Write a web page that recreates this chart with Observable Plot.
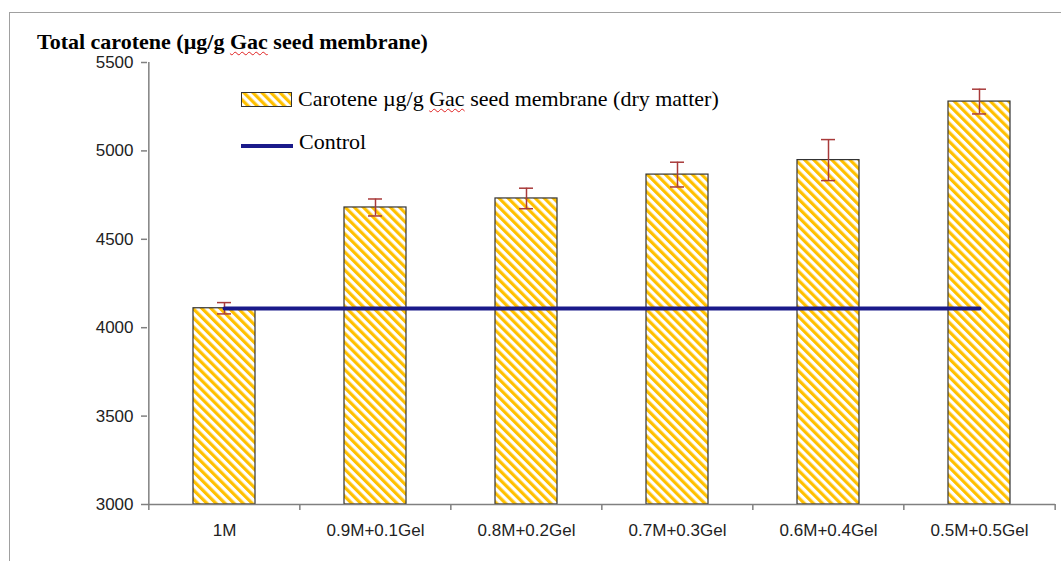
<!DOCTYPE html>
<html>
<head>
<meta charset="utf-8">
<script src="https://cdn.jsdelivr.net/npm/d3@7"></script>
<script src="https://cdn.jsdelivr.net/npm/@observablehq/plot@0.6"></script>
<style>
  html, body { margin: 0; padding: 0; background: #fff; }
  #wrap { position: relative; width: 1061px; height: 561px; overflow: hidden; }
  #frame { position: absolute; left: 9px; top: 12px; right: -5px; bottom: -5px; border-top: 1.5px solid #a0a0a0; border-left: 1.5px solid #a0a0a0; }
  #title { position: absolute; left: 37px; top: 30px; font: bold 22px "Liberation Serif", "Times New Roman", serif; line-height: 24px; color: #000; white-space: nowrap; }
  .squiggle { text-decoration: underline wavy #e02020; text-decoration-thickness: 1px; text-underline-offset: 2px; }
  .leg { position: absolute; height: 24px; font: 22px "Liberation Serif", "Times New Roman", serif; line-height: 24px; color: #000; white-space: nowrap; display: flex; align-items: center; }
  .leg svg { margin-right: 6px; }
  #chart { position: absolute; left: 0; top: 0; }
</style>
</head>
<body>
<div id="wrap">
  <div id="chart"></div>
  <div id="frame"></div>
  <div id="title">Total carotene (µg/g <span class="squiggle">Gac</span> seed membrane)</div>
  <div class="leg" id="leg1" style="left:241px; top:87px;">
    <svg width="51" height="15">
      <defs>
        <pattern id="hatchLeg" patternUnits="userSpaceOnUse" width="6.4" height="6.4" patternTransform="rotate(-45)">
          <rect width="6.4" height="6.4" fill="#fff"></rect>
          <rect width="3.2" height="6.4" fill="#ffc000"></rect>
        </pattern>
      </defs>
      <rect x="0.5" y="0.5" width="50" height="14" fill="url(#hatchLeg)" stroke="#333" stroke-width="1"></rect>
    </svg>
    <span>Carotene µg/g <span class="squiggle">Gac</span> seed membrane (dry matter)</span>
  </div>
  <div class="leg" id="leg2" style="left:241px; top:130px;">
    <svg width="52" height="24"><rect x="0" y="14" width="52" height="4" fill="#1a1a8a"></rect></svg>
    <span>Control</span>
  </div>
</div>
<script>
const categories = ["1M", "0.9M+0.1Gel", "0.8M+0.2Gel", "0.7M+0.3Gel", "0.6M+0.4Gel", "0.5M+0.5Gel"];
const carotene = [4110, 4680, 4731, 4866, 4948, 5279];
const errors = [32, 48, 58, 70, 116, 70];
const controlValue = 4108;
const yTicks = [3000, 3500, 4000, 4500, 5000, 5500];

const data = categories.map((c, i) => ({cat: c, v: carotene[i], e: errors[i]}));
const control = [{cat: categories[0], v: controlValue}, {cat: categories[categories.length - 1], v: controlValue}];

const W = 1061, H = 561;
const mL = 147, mR = 6, mT = 62, mB = 57;
const yDom = [yTicks[0], yTicks[yTicks.length - 1]];
const step = (W - mL - mR) / categories.length;
const unitsPerPx = (yDom[1] - yDom[0]) / (H - mT - mB);

const plot = Plot.plot({
  width: W,
  height: H,
  marginLeft: mL,
  marginRight: mR,
  marginTop: mT,
  marginBottom: mB,
  style: {background: "transparent", fontFamily: "'Liberation Sans', Arial, sans-serif", color: "#222"},
  x: {type: "band", domain: categories, paddingInner: 0.59, paddingOuter: 0.295, axis: null, label: null},
  y: {domain: yDom, axis: null, label: null},
  marks: [
    Plot.barY(data, {x: "cat", y1: () => yDom[0], y2: "v", fill: "url(#hatch)", stroke: "#333", strokeWidth: 1.2}),
    Plot.ruleY([yDom[0]], {stroke: "#808080", strokeWidth: 1.5}),
    Plot.ruleX([categories[0]], {x: d => d, dx: -step / 2, y1: yDom[0], y2: yDom[1], stroke: "#808080", strokeWidth: 1.5}),
    Plot.ruleX(categories, {x: d => d, dx: -step / 2, y1: yDom[0], y2: yDom[0] - 6 * unitsPerPx, stroke: "#808080", strokeWidth: 1.5}),
    Plot.ruleX([categories[categories.length - 1]], {x: d => d, dx: step / 2, y1: yDom[0], y2: yDom[0] - 6 * unitsPerPx, stroke: "#808080", strokeWidth: 1.5}),
    Plot.axisY({ticks: yTicks, label: null, tickSize: 6, tickPadding: 8, fontSize: 17, stroke: "#808080", strokeWidth: 1.5, tickFormat: d => String(d)}),
    Plot.axisX({label: null, tickSize: 0, tickPadding: 19, fontSize: 17}),
    Plot.ruleX(data, {x: "cat", y1: d => d.v - d.e, y2: d => d.v + d.e, stroke: "#a83a3a", strokeWidth: 1.5}),
    Plot.tickY(data, {x: "cat", y: d => d.v + d.e, stroke: "#a83a3a", strokeWidth: 1.5, insetLeft: 24, insetRight: 24}),
    Plot.tickY(data, {x: "cat", y: d => d.v - d.e, stroke: "#a83a3a", strokeWidth: 1.5, insetLeft: 24, insetRight: 24}),
    Plot.line(control, {x: "cat", y: "v", stroke: "#1a1a8a", strokeWidth: 4})
  ]
});

const defs = d3.select(plot).insert("defs", ":first-child");
const pat = defs.append("pattern")
  .attr("id", "hatch")
  .attr("patternUnits", "userSpaceOnUse")
  .attr("width", 6.4).attr("height", 6.4)
  .attr("patternTransform", "rotate(-45)");
pat.append("rect").attr("width", 6.4).attr("height", 6.4).attr("fill", "#fff");
pat.append("rect").attr("width", 3.2).attr("height", 6.4).attr("fill", "#ffc000");

document.getElementById("chart").appendChild(plot);
</script>
</body>
</html>
